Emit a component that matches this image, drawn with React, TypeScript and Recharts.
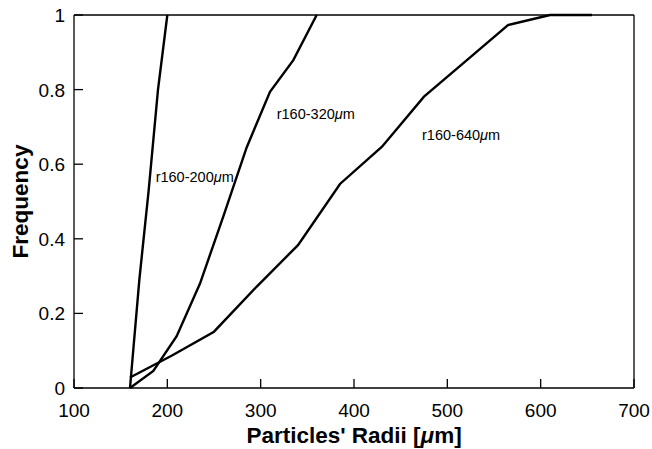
import { LineChart, Line, XAxis, YAxis, ReferenceLine, ReferenceDot } from "recharts"

const FONT = "'Liberation Sans', Arial, Helvetica, sans-serif"

// cumulative frequency curves, one per radius range
const r200 = [
  { r: 160, f: 0 },
  { r: 170, f: 0.29 },
  { r: 180, f: 0.53 },
  { r: 190, f: 0.8 },
  { r: 200, f: 1 },
]

const r320 = [
  { r: 160, f: 0 },
  { r: 185, f: 0.046 },
  { r: 210, f: 0.139 },
  { r: 235, f: 0.28 },
  { r: 260, f: 0.46 },
  { r: 285, f: 0.645 },
  { r: 310, f: 0.794 },
  { r: 335, f: 0.879 },
  { r: 360, f: 1 },
]

const r640 = [
  { r: 160, f: 0.028 },
  { r: 205, f: 0.087 },
  { r: 250, f: 0.151 },
  { r: 295, f: 0.27 },
  { r: 340, f: 0.383 },
  { r: 385, f: 0.547 },
  { r: 430, f: 0.647 },
  { r: 475, f: 0.781 },
  { r: 520, f: 0.877 },
  { r: 565, f: 0.973 },
  { r: 610, f: 1 },
  { r: 655, f: 1 },
]

const xTicks = [100, 200, 300, 400, 500, 600, 700]
const yTicks = [0, 0.2, 0.4, 0.6, 0.8, 1]

// curve labels, anchored at their left/baseline point
const curveLabels = [
  { r: 187.5, f: 0.553, lo: 160, hi: 200 },
  { r: 317.2, f: 0.721, lo: 160, hi: 320 },
  { r: 472.9, f: 0.666, lo: 160, hi: 640 },
]

const TICK_LEN = 9

const XTick = (props: any) => {
  const { x, y, payload } = props
  return (
    <g>
      <line x1={x} x2={x} y1={y} y2={y - TICK_LEN} stroke="#000" strokeWidth={1.3} />
      <text x={x} y={y + 29} textAnchor="middle" fontSize={19} fontFamily={FONT} fill="#000">
        {payload.value}
      </text>
    </g>
  )
}

const YTick = (props: any) => {
  const { x, y, payload } = props
  return (
    <g>
      <line x1={x} x2={x + TICK_LEN} y1={y} y2={y} stroke="#000" strokeWidth={1.3} />
      <text x={x - 9} y={y + 7} textAnchor="end" fontSize={19} fontFamily={FONT} fill="#000">
        {String(payload.value)}
      </text>
    </g>
  )
}

const curveLabel = (lo: number, hi: number) => (props: any) => {
  const vb = props.viewBox
  const x = vb.x + vb.width / 2
  const y = vb.y + vb.height / 2
  return (
    <text x={x} y={y} fontSize={14.5} fontFamily={FONT} fill="#000">
      {`r${lo}-${hi}`}
      <tspan fontStyle="italic">μ</tspan>m
    </text>
  )
}

export default function App() {
  return (
    <div style={{ position: "absolute", left: 0, top: 0, background: "#fff" }}>
      <LineChart width={652} height={449} margin={{ top: 15, right: 18, left: 0, bottom: 0 }}>
        <XAxis
          type="number"
          dataKey="r"
          domain={[100, 700]}
          ticks={xTicks}
          height={61}
          tickSize={0}
          tickMargin={0}
          stroke="#000"
          strokeWidth={1.3}
          tick={<XTick />}
          tickLine={false}
          label={(p: any) => {
            const vb = p.viewBox
            return (
              <text
                x={vb.x + vb.width / 2}
                y={443}
                textAnchor="middle"
                fontSize={22.5}
                fontWeight="bold"
                fontFamily={FONT}
                fill="#000"
              >
                Particles' Radii [<tspan fontStyle="italic">μ</tspan>m]
              </text>
            )
          }}
        />
        <YAxis
          type="number"
          dataKey="f"
          domain={[0, 1]}
          ticks={yTicks}
          width={74}
          tickSize={0}
          tickMargin={0}
          stroke="#000"
          strokeWidth={1.3}
          tick={<YTick />}
          tickLine={false}
          label={(p: any) => {
            const vb = p.viewBox
            const cy = vb.y + vb.height / 2
            return (
              <text
                x={28}
                y={cy}
                transform={`rotate(-90, 28, ${cy})`}
                textAnchor="middle"
                fontSize={22.5}
                fontWeight="bold"
                fontFamily={FONT}
                fill="#000"
              >
                Frequency
              </text>
            )
          }}
        />
        <ReferenceLine y={1} stroke="#000" strokeWidth={1.3} />
        <ReferenceLine x={700} stroke="#000" strokeWidth={1.3} />
        <Line data={r200} dataKey="f" type="linear" stroke="#000" strokeWidth={2.4} dot={false} isAnimationActive={false} />
        <Line data={r320} dataKey="f" type="linear" stroke="#000" strokeWidth={2.4} dot={false} isAnimationActive={false} />
        <Line data={r640} dataKey="f" type="linear" stroke="#000" strokeWidth={2.4} dot={false} isAnimationActive={false} />
        {curveLabels.map((c) => (
          <ReferenceDot
            key={c.hi}
            x={c.r}
            y={c.f}
            r={1}
            fill="none"
            stroke="none"
            label={curveLabel(c.lo, c.hi)}
          />
        ))}
      </LineChart>
    </div>
  )
}
